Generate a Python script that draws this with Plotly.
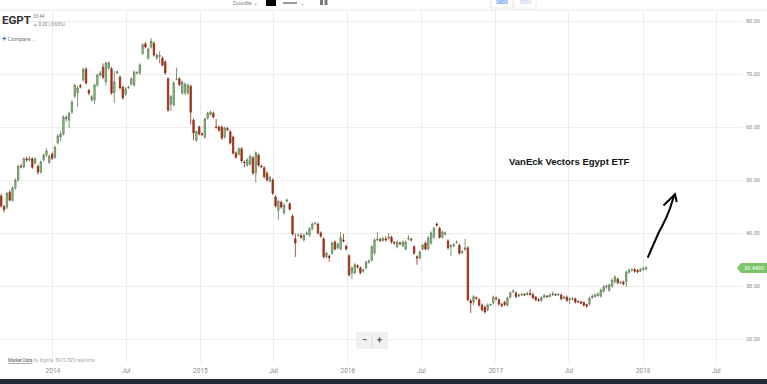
import plotly.graph_objects as go
import pandas as pd

# ---------------- data (weekly EGPT candles) ----------------
week_start = "2013-08-26"
opens = [
47.0, 45.0, 44.9, 47.7, 46.2, 48.5, 50.0, 52.6, 52.5, 54.0,
53.8, 54.0, 53.2, 52.6, 51.5, 53.8, 54.7, 53.3, 54.9, 54.3,
57.0, 58.1, 58.7, 61.5, 61.3, 62.8, 65.8, 66.4, 67.8, 68.9,
70.9, 66.9, 65.1, 65.1, 67.9, 69.8, 71.3, 68.5, 71.1, 71.0,
66.5, 70.2, 69.4, 67.5, 66.2, 67.4, 68.1, 67.9, 70.2, 70.2,
73.9, 75.7, 73.0, 75.1, 75.8, 73.0, 73.3, 73.0, 72.3, 69.1,
64.3, 64.2, 69.0, 69.1, 66.4, 66.4, 66.4, 67.7, 61.3, 57.5,
60.0, 58.7, 58.1, 61.7, 62.4, 62.6, 60.0, 60.0, 60.0, 58.1,
59.7, 59.1, 58.1, 55.1, 54.9, 55.9, 53.4, 52.8, 53.0, 54.2,
51.3, 54.7, 52.6, 52.3, 51.3, 49.8, 50.0, 46.8, 44.3, 45.8,
43.8, 46.0, 45.5, 43.2, 38.9, 39.6, 39.5, 38.7, 39.8, 39.6,
40.8, 41.8, 41.7, 40.0, 38.9, 35.5, 35.6, 36.2, 38.3, 37.2,
37.0, 38.7, 37.5, 35.7, 32.5, 32.5, 33.8, 33.4, 32.8, 33.4,
34.5, 34.9, 36.2, 38.7, 38.8, 38.6, 38.9, 39.0, 39.2, 38.2,
37.4, 38.1, 37.6, 37.0, 38.9, 38.8, 37.4, 35.5, 35.3, 37.0,
38.1, 37.0, 38.1, 39.2, 41.7, 40.9, 39.2, 39.8, 38.5, 37.4,
37.6, 38.2, 37.7, 36.3, 36.9, 37.2, 27.2, 27.0, 27.8, 27.4,
26.4, 26.0, 25.5, 26.4, 26.8, 27.7, 27.4, 26.5, 26.9, 26.4,
27.9, 28.9, 28.7, 28.1, 28.3, 28.4, 28.4, 28.6, 28.4, 27.9,
27.4, 27.3, 27.9, 28.1, 28.0, 28.3, 28.4, 28.3, 28.3, 27.7,
27.9, 27.4, 27.5, 27.6, 27.1, 27.0, 26.9, 26.5, 26.6, 27.8,
28.0, 28.2, 28.1, 29.0, 29.8, 29.2, 30.0, 30.8, 31.3, 30.6,
30.7, 30.8, 32.6, 33.0, 33.1, 32.9, 32.8, 33.1, 33.2]
highs = [
47.4, 45.3, 47.8, 48.1, 48.8, 50.3, 52.9, 53.0, 54.3, 54.4,
54.5, 54.3, 54.3, 52.9, 53.7, 55.0, 56.0, 54.8, 55.2, 56.5,
58.6, 59.2, 62.2, 62.3, 62.9, 65.0, 68.2, 67.8, 68.1, 71.2,
71.3, 67.2, 66.0, 68.2, 70.1, 70.6, 72.0, 72.4, 72.4, 71.3,
70.6, 70.7, 69.7, 67.8, 67.5, 67.8, 69.4, 70.7, 70.5, 72.0,
75.8, 76.0, 75.0, 76.8, 76.1, 73.9, 74.3, 73.3, 72.6, 69.4,
66.0, 68.6, 71.2, 69.4, 68.8, 68.4, 68.2, 68.0, 61.6, 59.4,
60.3, 59.0, 61.8, 62.9, 63.1, 62.9, 61.5, 60.3, 60.3, 60.1,
60.0, 59.4, 58.4, 55.4, 56.2, 56.2, 53.7, 54.1, 54.8, 54.5,
55.4, 55.0, 52.9, 52.6, 51.6, 50.8, 50.3, 47.1, 46.3, 46.1,
45.6, 46.5, 45.8, 43.5, 39.9, 39.9, 40.0, 39.9, 40.3, 41.1,
42.0, 42.1, 42.0, 40.3, 39.2, 36.5, 35.9, 38.4, 38.6, 38.2,
40.2, 39.8, 37.8, 36.0, 33.7, 34.3, 34.1, 33.7, 33.3, 34.8,
35.0, 37.7, 39.0, 40.2, 39.1, 39.3, 39.4, 40.0, 39.5, 38.5,
38.6, 38.4, 38.6, 38.6, 39.6, 39.1, 37.7, 35.8, 36.7, 38.0,
38.4, 39.4, 40.3, 41.2, 42.0, 41.2, 40.5, 40.3, 38.8, 37.9,
38.1, 38.6, 38.0, 36.8, 38.9, 37.5, 27.6, 28.3, 28.0, 27.7,
26.7, 26.3, 26.7, 26.7, 28.2, 28.0, 27.7, 26.8, 27.2, 28.0,
29.0, 29.4, 29.0, 28.6, 28.7, 28.7, 28.9, 29.4, 28.7, 28.1,
27.7, 28.1, 28.5, 28.3, 28.6, 29.0, 28.6, 28.7, 28.6, 28.2,
28.2, 27.9, 27.9, 27.8, 27.3, 27.2, 27.1, 26.7, 28.0, 28.4,
28.6, 28.8, 29.5, 30.2, 30.3, 30.5, 31.4, 32.0, 31.6, 30.9,
31.0, 32.9, 33.3, 33.3, 33.4, 33.2, 33.4, 33.6, 33.7]
lows = [
44.8, 43.9, 44.5, 46.0, 45.9, 48.2, 49.7, 52.2, 52.2, 53.4,
53.5, 52.1, 52.9, 51.0, 51.2, 53.5, 54.4, 53.0, 53.8, 54.0,
56.7, 57.3, 58.4, 61.0, 59.8, 62.5, 65.5, 63.8, 67.3, 68.6,
68.0, 66.0, 64.8, 64.3, 67.6, 69.5, 69.1, 67.8, 70.8, 66.1,
64.5, 70.1, 67.1, 65.2, 65.9, 67.2, 67.8, 67.6, 69.9, 69.9,
73.6, 74.8, 72.7, 74.8, 73.3, 72.7, 72.0, 71.4, 69.9, 62.9,
63.0, 63.9, 68.8, 67.7, 66.1, 66.1, 66.1, 60.5, 57.5, 57.2,
58.4, 58.3, 57.8, 61.4, 62.1, 61.6, 59.7, 59.1, 57.6, 57.8,
59.2, 56.7, 54.8, 54.0, 54.6, 53.3, 52.4, 52.5, 52.7, 51.0,
49.5, 52.5, 52.2, 50.3, 49.7, 49.5, 47.2, 44.8, 42.5, 44.6,
43.5, 45.8, 44.2, 39.5, 35.5, 39.3, 38.9, 38.4, 39.6, 39.3,
40.5, 41.5, 39.7, 39.1, 35.2, 35.2, 34.6, 35.9, 36.7, 36.9,
36.7, 38.2, 36.7, 31.8, 31.3, 32.2, 33.3, 32.2, 32.5, 33.1,
34.2, 34.6, 35.9, 38.4, 38.3, 38.3, 38.4, 38.7, 38.0, 37.8,
37.1, 37.7, 37.3, 36.7, 38.6, 38.4, 35.9, 34.0, 35.0, 36.7,
36.7, 36.7, 37.8, 38.9, 41.2, 38.9, 38.9, 39.5, 36.9, 35.7,
37.3, 38.0, 35.9, 36.0, 36.6, 27.1, 24.9, 26.3, 27.4, 26.1,
25.2, 24.8, 25.2, 26.2, 26.5, 27.3, 26.3, 26.0, 26.2, 26.1,
27.6, 28.7, 27.7, 27.9, 28.1, 28.1, 28.2, 28.2, 27.5, 27.1,
27.0, 27.0, 27.7, 27.8, 27.8, 28.1, 28.1, 28.1, 27.3, 27.5,
27.0, 26.6, 27.3, 26.7, 26.8, 26.6, 26.1, 25.9, 26.3, 27.6,
27.8, 28.0, 27.8, 28.7, 29.5, 28.9, 29.7, 30.5, 30.3, 30.4,
30.1, 29.8, 32.3, 32.7, 32.5, 32.4, 32.6, 32.9, 33.0]
closes = [
45.1, 44.4, 47.5, 46.2, 48.5, 50.0, 52.6, 52.5, 54.0, 53.8,
54.0, 52.4, 54.0, 51.5, 53.4, 54.7, 55.5, 54.5, 54.1, 56.2,
58.3, 58.7, 61.9, 61.9, 62.6, 64.7, 67.9, 67.4, 67.6, 70.9,
68.3, 66.4, 65.7, 67.9, 69.8, 70.2, 69.4, 72.1, 72.1, 66.4,
68.5, 70.4, 67.4, 65.5, 67.2, 67.5, 69.1, 70.4, 70.3, 71.7,
75.5, 75.1, 74.7, 76.2, 73.6, 73.6, 73.5, 71.7, 70.2, 63.2,
65.7, 68.3, 69.0, 68.0, 68.5, 68.1, 67.9, 62.8, 58.9, 59.1,
58.7, 58.6, 61.5, 62.6, 62.8, 61.9, 59.9, 59.4, 57.9, 59.8,
59.5, 57.0, 55.1, 54.3, 55.9, 53.6, 53.3, 53.8, 54.5, 51.3,
55.1, 52.8, 52.5, 50.6, 50.0, 50.5, 47.5, 45.1, 46.0, 44.9,
45.3, 46.2, 44.5, 39.8, 38.1, 39.6, 39.2, 39.6, 40.0, 40.8,
41.7, 41.8, 40.0, 39.4, 35.5, 36.2, 35.4, 38.1, 37.0, 37.9,
39.1, 38.5, 37.0, 32.1, 33.4, 34.0, 33.6, 32.5, 33.0, 34.5,
34.7, 37.4, 38.7, 38.8, 38.6, 39.0, 38.7, 39.2, 38.3, 38.1,
38.3, 38.0, 38.3, 38.3, 39.0, 38.7, 36.2, 35.3, 36.4, 37.7,
37.0, 39.1, 40.0, 40.9, 41.5, 39.2, 40.2, 40.0, 37.2, 37.6,
37.8, 38.3, 36.2, 36.5, 37.2, 27.4, 26.8, 28.0, 27.7, 26.4,
25.5, 25.1, 26.4, 26.5, 27.9, 27.6, 26.6, 26.3, 26.5, 27.7,
28.7, 29.0, 28.0, 28.3, 28.4, 28.3, 28.6, 28.4, 27.8, 27.4,
27.3, 27.8, 28.2, 28.0, 28.3, 28.5, 28.3, 28.4, 27.6, 27.9,
27.3, 27.6, 27.6, 27.0, 27.0, 26.8, 26.4, 26.2, 27.7, 28.1,
28.3, 28.5, 29.2, 29.8, 30.0, 30.2, 31.1, 31.7, 30.6, 30.7,
30.4, 32.6, 33.0, 33.05, 32.8, 32.7, 33.1, 33.3, 33.44]

x_tick_dates = ["2014-01-01", "2014-07-01", "2015-01-01", "2015-07-01", "2016-01-01",
                "2016-07-01", "2017-01-01", "2017-07-01", "2018-01-01", "2018-07-01"]
x_tick_labels = ["2014", "Jul", "2015", "Jul", "2016", "Jul", "2017", "Jul", "2018", "Jul"]
y_tick_vals = [20, 30, 40, 50, 60, 70, 80]
y_tick_labels = ["20.00", "30.00", "40.00", "50.00", "60.00", "70.00", "80.00"]
last_price_label = "33.4400"
title_text = "VanEck Vectors Egypt ETF"

dates = pd.date_range(week_start, periods=len(closes), freq="7D")

# ---------------- layout geometry (pixels) ----------------
W, H = 767, 384
ML, MR, MT, MB = 0, 24, 10, 22
PW, PH = W - ML - MR, H - MT - MB


def px(x, y):
    """pixel -> paper coordinates"""
    return (x - ML) / PW, (H - MB - y) / PH


fig = go.Figure()
fig.add_trace(go.Candlestick(
    x=dates, open=opens, high=highs, low=lows, close=closes,
    increasing=dict(line=dict(color="#5f7f57", width=0.8), fillcolor="#9fcf8c"),
    decreasing=dict(line=dict(color="#8c2a12", width=0.8), fillcolor="#b3320f"),
    whiskerwidth=0, hoverinfo="skip", showlegend=False,
))

shapes = []
annotations = []


def rect(x0, y0, x1, y1, fill, line=None, layer="above", lw=0):
    a = px(x0, y0)
    b = px(x1, y1)
    shapes.append(dict(type="rect", xref="paper", yref="paper", x0=a[0], y0=a[1], x1=b[0], y1=b[1],
                       fillcolor=fill, line=dict(color=line or fill, width=lw), layer=layer))


def path(points, color="black", width=2, fill=None, closed=False):
    d = ""
    for i, (x, y) in enumerate(points):
        p = px(x, y)
        d += ("M" if i == 0 else "L") + f"{p[0]:.5f},{p[1]:.5f} "
    if closed:
        d += "Z"
    shapes.append(dict(type="path", xref="paper", yref="paper", path=d,
                       line=dict(color=color, width=width), fillcolor=fill, layer="above"))


def text(x, y, s, size=6, color="#888", xanchor="left", family="Roboto", bg=None):
    p = px(x, y)
    annotations.append(dict(xref="paper", yref="paper", x=p[0], y=p[1], text=s, showarrow=False,
                            xanchor=xanchor, yanchor="middle",
                            font=dict(size=size, color=color, family=family),
                            bgcolor=bg, borderpad=0))


# top border line
path([(0, 10), (767, 10)], color="#e6e6e6", width=1)
# white panel behind the ticker header
rect(0, 11, 51, 45, "white", layer="between")

# header
text(1, 20, "<b>EGPT</b>", size=11.5, color="#333333")
text(32, 16.5, "33.44", size=4.5, color="#777")
text(32, 24, "<span style='color:#5cb85c'>▲</span> 0.20 ( 0.60%)", size=4.5, color="#777")
text(1, 38, "<span style='color:#2f6fd1;font-size:8px'><b>+</b></span> Compare...", size=5.5, color="#777")

# toolbar remnants at top
text(232, 2, "Doodle ⌄", size=6, color="#888")
rect(266, 0, 276, 6, "#000000")
path([(283, 3), (297, 3)], color="#333", width=1)
text(299, 2, "⌄", size=6, color="#888")
rect(320, 0, 323, 5, "#777")
rect(324.5, 0, 327.5, 5, "#777")
rect(491, -2, 513, 8, "white", line="#e4e4e4", lw=1)
text(502, 2, "<b>UNDO</b>", size=4.5, color="#5b9bf0", xanchor="center")
rect(514, -2, 536, 8, "white", line="#eeeeee", lw=1)
text(525, 2, "<b>REDO</b>", size=4.5, color="#c8d8f0", xanchor="center")

# chart title annotation
text(569, 161.5, "<b>" + title_text + "</b>", size=9.5, color="#111", xanchor="center",
     family="Liberation Sans")

# hand-drawn arrow
path([(647.7, 257.7), (651, 250), (655, 241), (658.5, 233), (662.7, 225), (666.7, 216.7),
      (670, 208.3), (672.7, 200), (674.5, 194.5)], color="black", width=2)
path([(663.5, 205.5), (675, 194.3), (676.8, 202)], color="black", width=2)

# last price tag
path([(737, 268), (741, 263), (767, 263), (767, 273), (741, 273)], color="#7cc46a", width=0,
     fill="#7cc46a", closed=True)
text(753.5, 268, last_price_label, size=5.5, color="white", xanchor="center")

# zoom controls
rect(357, 333, 387, 348, "#f1f1f1", line="#e6e6e6", lw=1)
path([(372, 335), (372, 346)], color="#dddddd", width=1)
text(364.5, 340, "<b>−</b>", size=9, color="#555", xanchor="center")
text(379.5, 340, "<b>+</b>", size=9, color="#555", xanchor="center")

# market data credit
text(7, 360, "<u>Market Data</u><span style='color:#aaa'> by Xignite. BATS BZX real-time.</span>",
     size=4.5, color="#555")

# bottom dark bar
rect(0, 379, 767, 385, "#222a36")

fig.update_layout(
    width=W, height=H,
    margin=dict(l=ML, r=MR, t=MT, b=MB),
    paper_bgcolor="white", plot_bgcolor="white",
    showlegend=False,
    font=dict(family="Roboto", color="#888"),
    shapes=shapes, annotations=annotations,
    xaxis=dict(
        type="date", range=["2013-08-23", "2018-09-05"],
        tickvals=x_tick_dates, ticktext=x_tick_labels,
        showgrid=True, gridcolor="#ececec", gridwidth=1,
        zeroline=False, showline=False, ticks="",
        tickfont=dict(size=6.5, color="#8a8a8a"),
        rangeslider=dict(visible=False), fixedrange=True,
        ticklabelstandoff=3,
    ),
    yaxis=dict(
        side="right", range=[15.66, 82.08],
        tickvals=y_tick_vals, ticktext=y_tick_labels,
        showgrid=True, gridcolor="#ececec", gridwidth=1,
        zeroline=False, showline=False, ticks="",
        tickfont=dict(size=5.5, color="#8a8a8a"),
        automargin=False, fixedrange=True,
        ticklabelstandoff=2,
    ),
)

fig.write_html("out.html")
